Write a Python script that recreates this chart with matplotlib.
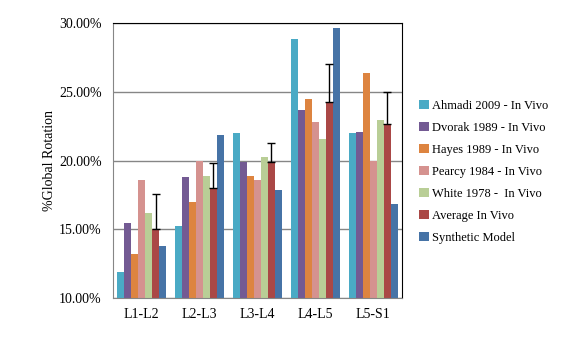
import numpy as np
import matplotlib.pyplot as plt
from matplotlib.ticker import FuncFormatter

plt.rcParams['font.family'] = ['Liberation Serif', 'DejaVu Serif']

levels = ['L1-L2', 'L2-L3', 'L3-L4', 'L4-L5', 'L5-S1']
ahmadi = [11.9, 15.25, 22.0, 28.8, 22.0]
dvorak = [15.45, 18.8, 19.9, 23.65, 22.05]
hayes = [13.2, 17.0, 18.85, 24.5, 26.4]
pearcy = [18.6, 20.0, 18.6, 22.8, 20.0]
white = [16.2, 18.85, 20.25, 21.55, 22.95]
average = [15.0, 18.0, 19.9, 24.25, 22.65]
avg_err = [2.6, 1.85, 1.35, 2.75, 2.3]
synthetic = [13.8, 21.85, 17.85, 29.6, 16.85]

series = [
    ('Ahmadi 2009 - In Vivo', ahmadi, '#4aaac5'),
    ('Dvorak 1989 - In Vivo', dvorak, '#735a93'),
    ('Hayes 1989 - In Vivo', hayes, '#dd8440'),
    ('Pearcy 1984 - In Vivo', pearcy, '#d5928f'),
    ('White 1978 -  In Vivo', white, '#b9ce96'),
    ('Average In Vivo', average, '#aa4846'),
    ('Synthetic Model', synthetic, '#4673a6'),
]

fig = plt.figure(figsize=(5.78, 3.38), dpi=100)
ax = fig.add_axes([0.195, 0.118, 0.501, 0.814])

x = np.arange(len(levels))
w = 0.12
for i, (name, vals, col) in enumerate(series):
    pos = x + (i - 3) * w
    if name == 'Average In Vivo':
        ax.bar(pos, vals, w, color=col, label=name,
               yerr=[np.zeros(len(vals)), avg_err], capsize=3,
               error_kw=dict(ecolor='black', elinewidth=1, capthick=1))
    else:
        ax.bar(pos, vals, w, color=col, label=name)

ax.set_ylim(10, 30)
ax.set_xlim(-0.5, 4.5)
ax.set_yticks([10, 15, 20, 25, 30])
ax.yaxis.set_major_formatter(FuncFormatter(lambda v, p: '%.2f%%' % v))
ax.set_xticks(x)
ax.set_xticklabels(levels)
ax.tick_params(length=0, labelsize=10, pad=7)
ax.tick_params(axis='y', pad=8)
ax.grid(axis='y', color='#868686', linewidth=1)
ax.set_axisbelow(True)
ax.spines['left'].set_color('#868686')
ax.spines['bottom'].set_color('#868686')
ax.spines['top'].set_color('black')
ax.spines['right'].set_color('black')
ax.set_ylabel('%Global Rotation', fontsize=10, labelpad=2)

ax.legend(loc='center left', bbox_to_anchor=(1.02, 0.46), frameon=False,
          fontsize=9, handlelength=0.75, handleheight=0.75, handletextpad=0.25,
          labelspacing=0.8)

fig.savefig('out.png', dpi=100)
